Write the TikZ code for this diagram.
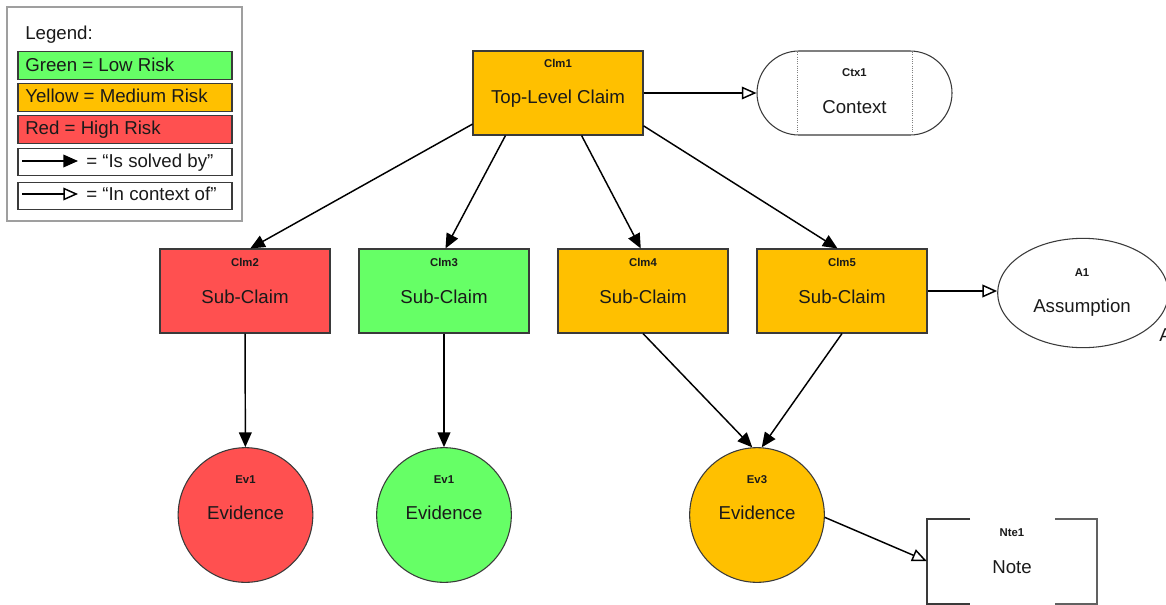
\documentclass[tikz,border=0pt]{standalone}
\usepackage{fontspec}
\setmainfont{Liberation Sans}
\usetikzlibrary{arrows.meta,shapes.geometric,shapes.misc}
\definecolor{yel}{HTML}{FFC000}
\definecolor{rd}{HTML}{FF5050}
\definecolor{gr}{HTML}{66FF66}
\definecolor{bd}{HTML}{3A3A3A}
\definecolor{tx}{HTML}{1A1A1A}
\begin{document}
\begin{tikzpicture}[x=0.75pt,y=-0.75pt,
  box/.style={draw=bd, line width=0.8pt, rectangle, minimum width=127.5pt, minimum height=63pt, inner sep=0pt},
  ev/.style={draw=bd, line width=0.8pt, circle, minimum size=101pt, inner sep=0pt},
  idl/.style={font=\fontsize{8.5}{10}\selectfont\bfseries, text=tx, anchor=base, inner sep=0pt},
  mainl/.style={font=\fontsize{14}{16}\selectfont, text=tx, anchor=base, inner sep=0pt},
  solved/.style={-{Triangle[length=11pt,width=9.5pt]}, line width=1.1pt},
  ctxarr/.style={-{Triangle[open,length=11pt,width=9.5pt,fill=white]}, line width=1.1pt},
  legrow/.style={draw=bd, line width=0.8pt, rectangle, minimum width=160.5pt, minimum height=20.5pt, inner sep=0pt},
  legt/.style={font=\fontsize{14}{16}\selectfont, text=tx, anchor=base west, inner sep=0pt}]

\useasboundingbox (0,0) rectangle (1166,604);

% ---------- Legend ----------
\node[draw=gray!75, line width=0.8pt, rectangle, minimum width=176.25pt, minimum height=160.5pt, inner sep=0pt] (leg) at (124.5,114) {};
\node[legt] (legtitle) at (25,39) {Legend:};
\node[legrow, fill=gr] (lg) at (125,65.5) {};
\node[legrow, fill=yel] (ly) at (125,97.5) {};
\node[legrow, fill=rd] (lr) at (125,129.5) {};
\node[legrow] (ls) at (125,162) {};
\node[legrow] (lc) at (125,196) {};
\node[legt] (lgt) at (25,71) {Green = Low Risk};
\node[legt] (lyt) at (25,102.5) {Yellow = Medium Risk};
\node[legt] (lrt) at (25,134.5) {Red = High Risk};
\coordinate (s0) at (22,161);
\coordinate (s1) at (78,161);
\draw[solved] (s0) -- (s1);
\node[legt] (lst) at (86,167) {= “Is solved by”};
\coordinate (k0) at (22,194);
\coordinate (k1) at (78,194);
\draw[ctxarr] (k0) -- (k1);
\node[legt] (lct) at (86,200.5) {= “In context of”};

% ---------- Claims ----------
\node[box, fill=yel] (c1) at (558,93) {};
\node[idl] (c1id) at (558,67) {Clm1};
\node[mainl] (c1t) at (558,103.5) {Top-Level Claim};

\node[box, fill=rd] (c2) at (245,291) {};
\node[idl] (c2id) at (245,266) {Clm2};
\node[mainl] (c2t) at (245,303) {Sub-Claim};

\node[box, fill=gr] (c3) at (444,291) {};
\node[idl] (c3id) at (444,266) {Clm3};
\node[mainl] (c3t) at (444,303) {Sub-Claim};

\node[box, fill=yel] (c4) at (643,291) {};
\node[idl] (c4id) at (643,266) {Clm4};
\node[mainl] (c4t) at (643,303) {Sub-Claim};

\node[box, fill=yel] (c5) at (842,291) {};
\node[idl] (c5id) at (842,266) {Clm5};
\node[mainl] (c5t) at (842,303) {Sub-Claim};

% ---------- Context ----------
\node[draw=bd, line width=0.8pt, rounded rectangle, minimum width=146.25pt, minimum height=63pt, inner sep=0pt] (ctx) at (854.5,93) {};
\draw[densely dotted, gray, line width=0.7pt] (797,52) -- (797,134);
\draw[densely dotted, gray, line width=0.7pt] (912,52) -- (912,134);
\node[idl] (ctxid) at (854.5,76) {Ctx1};
\node[mainl] (ctxt) at (854.5,113) {Context};

% ---------- Assumption ----------
\node[draw=bd, line width=0.8pt, ellipse, minimum width=128pt, minimum height=82pt, inner sep=0pt] (a1) at (1083,293) {};
\node[idl] (a1id) at (1082,276) {A1};
\node[mainl] (a1t) at (1082,312) {Assumption};
\node[mainl, anchor=base west] (astray) at (1159,341) {A};

% ---------- Evidence ----------
\node[ev, fill=rd] (e1) at (245.5,515) {};
\node[idl] (e1id) at (245.5,483) {Ev1};
\node[mainl] (e1t) at (245.5,519) {Evidence};

\node[ev, fill=gr] (e2) at (444,515) {};
\node[idl] (e2id) at (444,483) {Ev1};
\node[mainl] (e2t) at (444,519) {Evidence};

\node[ev, fill=yel] (e3) at (757,515) {};
\node[idl] (e3id) at (757,483) {Ev3};
\node[mainl] (e3t) at (757,519) {Evidence};

% ---------- Note ----------
\node[rectangle, minimum width=127.5pt, minimum height=63pt, inner sep=0pt] (nte) at (1012,561) {};
\draw[bd, line width=0.9pt] (970,519) -- (927,519) -- (927,604) -- (970,604);
\draw[bd!80, line width=0.9pt] (1055,519) -- (1097,519) -- (1097,604) -- (1055,604);
\node[idl] (nteid) at (1012,536) {Nte1};
\node[mainl] (ntet) at (1012,573) {Note};

% ---------- Connectors ----------
\draw[solved] (c1.200) -- (c2.83);
\draw[solved] (c1.219) -- (c3.88);
\draw[solved] (c1.299) -- (c4.93);
\draw[solved] (c1.339) -- (c5.96);
\draw[solved] (c2) -- (e1);
\draw[solved] (c3) -- (e2);
\draw[solved] (c4.south) -- (e3.94);
\draw[solved] (c5.south) -- (e3.86);
\draw[ctxarr] (c1.east) -- (ctx.west);
\draw[ctxarr] (c5.east) -- (c5.east -| a1.west);
\draw[ctxarr] (e3.358) -- (nte.west);
\end{tikzpicture}
\end{document}
